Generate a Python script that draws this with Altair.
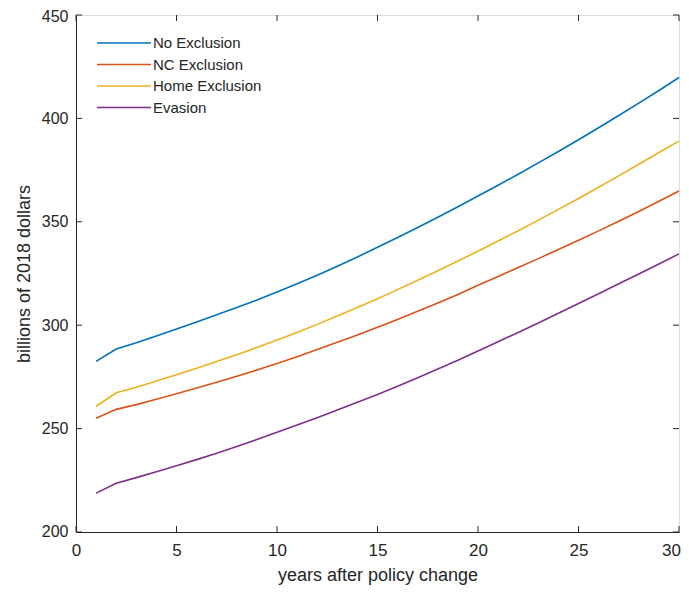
import altair as alt
import pandas as pd

years = list(range(1, 31))
series_names = ["No Exclusion", "NC Exclusion", "Home Exclusion", "Evasion"]
series_colors = ["#0072BD", "#D95319", "#EDB120", "#7E2F8E"]

no_exclusion = [282.5, 288.5, 291.5, 294.8, 298.2, 301.6, 305.0, 308.5, 312.2, 316.0,
                320.0, 324.2, 328.5, 333.0, 337.7, 342.4, 347.2, 352.2, 357.3, 362.5,
                367.7, 373.0, 378.5, 384.0, 389.7, 395.5, 401.4, 407.4, 413.5, 419.8]
nc_exclusion = [255.0, 259.3, 261.6, 264.2, 266.9, 269.6, 272.4, 275.3, 278.3, 281.5,
                284.8, 288.2, 291.7, 295.3, 299.0, 302.8, 306.7, 310.7, 314.8, 319.3,
                323.6, 327.9, 332.2, 336.6, 341.1, 345.6, 350.3, 355.0, 359.9, 364.9]
home_exclusion = [260.8, 267.3, 270.0, 273.0, 276.0, 279.2, 282.4, 285.7, 289.2, 292.8,
                  296.5, 300.4, 304.4, 308.6, 312.8, 317.2, 321.7, 326.3, 331.0, 335.8,
                  340.7, 345.7, 350.8, 356.0, 361.3, 366.7, 372.2, 377.8, 383.5, 389.0]
evasion = [218.8, 223.6, 226.3, 229.1, 232.0, 235.0, 238.1, 241.3, 244.7, 248.2,
           251.7, 255.3, 259.0, 262.7, 266.5, 270.5, 274.6, 278.8, 283.1, 287.5,
           292.0, 296.5, 301.1, 305.8, 310.5, 315.2, 320.0, 324.8, 329.6, 334.5]

x_ticks = [0, 5, 10, 15, 20, 25, 30]
y_ticks = [200, 250, 300, 350, 400, 450]

rows = []
for name, vals in zip(series_names, [no_exclusion, nc_exclusion, home_exclusion, evasion]):
    for yr, v in zip(years, vals):
        rows.append({"year": yr, "value": v, "series": name})
df = pd.DataFrame(rows)

W, H = 603, 517
FONT = "Liberation Sans"
TXT = "#262626"

xscale = alt.Scale(domain=[0, 30], nice=False, zero=False)
yscale = alt.Scale(domain=[200, 450], nice=False, zero=False)

last_x = "datum.value == 30"

lines = alt.Chart(df).mark_line(strokeWidth=1.6).encode(
    x=alt.X("year:Q", scale=xscale, title="years after policy change",
            axis=alt.Axis(values=x_ticks, tickSize=0, labelPadding=10, titlePadding=8,
                          labelFlush=False,
                          labelAlign={"condition": {"test": last_x, "value": "right"}, "value": "center"},
                          labelOffset={"condition": {"test": last_x, "value": 1.5}, "value": 0},
                          grid=False, domainColor=TXT, labelColor=TXT, titleColor=TXT,
                          labelFontSize=17, titleFontSize=18, labelFont=FONT, titleFont=FONT,
                          titleFontWeight="normal", format="d")),
    y=alt.Y("value:Q", scale=yscale, title="billions of 2018 dollars",
            axis=alt.Axis(values=y_ticks, tickSize=0, labelPadding=8, titlePadding=8,
                          labelFlush=True, labelFlushOffset=7,
                          grid=False, domainColor=TXT, labelColor=TXT, titleColor=TXT,
                          labelFontSize=16, titleFontSize=18, labelFont=FONT, titleFont=FONT,
                          titleFontWeight="normal", format="d")),
    color=alt.Color("series:N", sort=series_names,
                    scale=alt.Scale(domain=series_names, range=series_colors),
                    legend=alt.Legend(title=None, orient="none", legendX=54, legendY=17,
                                      symbolType="M-4.4,0H1", symbolSize=400,
                                      symbolStrokeWidth=1.5, labelFontSize=15,
                                      labelFont=FONT, labelColor=TXT, labelOffset=1,
                                      rowPadding=2.5, padding=0)),
)

xt = pd.DataFrame({"t": x_ticks})
yt = pd.DataFrame({"t": y_ticks})
tick_color = "#262626"
bottom_ticks = alt.Chart(xt).mark_rule(color=tick_color, strokeWidth=1).encode(
    x=alt.X("t:Q", scale=xscale), y=alt.value(H), y2=alt.value(H - 6))
top_ticks = alt.Chart(xt).mark_rule(color=tick_color, strokeWidth=1).encode(
    x=alt.X("t:Q", scale=xscale), y=alt.value(0), y2=alt.value(6))
left_ticks = alt.Chart(yt).mark_rule(color=tick_color, strokeWidth=1).encode(
    y=alt.Y("t:Q", scale=yscale), x=alt.value(0), x2=alt.value(6))
right_ticks = alt.Chart(yt).mark_rule(color=tick_color, strokeWidth=1).encode(
    y=alt.Y("t:Q", scale=yscale), x=alt.value(W), x2=alt.value(W - 6))

chart = alt.layer(lines, bottom_ticks, top_ticks, left_ticks, right_ticks).properties(
    width=W, height=H,
    autosize=alt.AutoSizeParams(type="none"),
    padding={"left": 68, "top": 7, "right": 2, "bottom": 53},
).configure_view(stroke="#555555", strokeWidth=1).configure(background="white")

chart.save("out.html", embed_options={"renderer": "svg", "actions": False})
